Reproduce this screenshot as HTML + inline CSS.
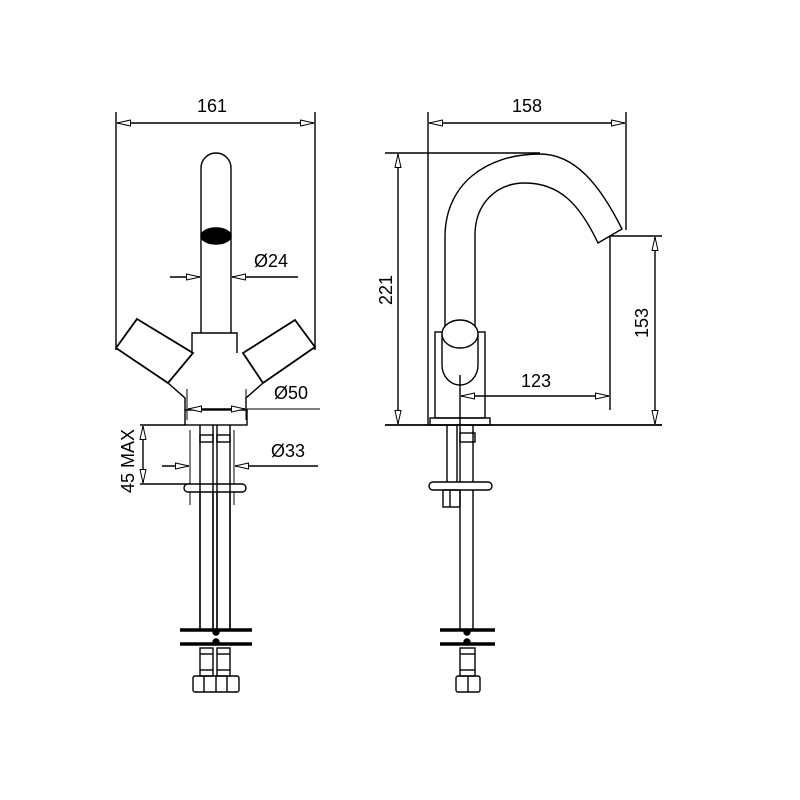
<!DOCTYPE html>
<html><head><meta charset="utf-8"><style>html,body{margin:0;padding:0;background:#fff}svg{display:block}</style></head><body>
<svg width="800" height="800" viewBox="0 0 800 800" xmlns="http://www.w3.org/2000/svg" font-family="Liberation Sans, sans-serif">
<defs>
<marker id="a" viewBox="0 0 14 7" refX="14" refY="3.5" markerWidth="14" markerHeight="7" orient="auto" markerUnits="userSpaceOnUse"><path d="M0.5,0.5 L14,3.5 L0.5,6.5 Z" fill="#fff" stroke="#000" stroke-width="1"/></marker>
</defs>
<g fill="none" stroke="#000" stroke-width="1.4">
<!-- LEFT VIEW -->
<line x1="116" y1="112" x2="116" y2="350"/>
<line x1="315" y1="112" x2="315" y2="350"/>
<line x1="213" y1="123" x2="117" y2="123" marker-end="url(#a)"/>
<line x1="213" y1="123" x2="314" y2="123" marker-end="url(#a)"/>
<path d="M201,333 V168 A15,15 0 0 1 231,168 V333"/>
<ellipse cx="216" cy="236" rx="15" ry="8" fill="#000"/>
<line x1="170" y1="277" x2="200" y2="277" marker-end="url(#a)"/>
<line x1="298" y1="277" x2="232" y2="277" marker-end="url(#a)"/>
<path d="M192,353 V333 H237 V353"/>
<path d="M137,319 L193,353 L168,383 L116,348 Z" stroke-width="1.8"/>
<path d="M295,320 L315,347 L263,383 L243,353 Z" stroke-width="1.8"/>
<path d="M168,383 L185,398 V410"/>
<path d="M263,383 L246,398 V410"/>
<rect x="185" y="410" width="62" height="15"/>
<line x1="187" y1="389" x2="187" y2="420" stroke-width="1"/>
<line x1="246" y1="389" x2="246" y2="420" stroke-width="1"/>
<line x1="216" y1="409" x2="188" y2="409" marker-end="url(#a)"/>
<line x1="216" y1="409" x2="245" y2="409" marker-end="url(#a)"/>
<line x1="246" y1="409" x2="320" y2="409" stroke-width="1"/>
<line x1="140" y1="425" x2="185" y2="425"/>
<line x1="140" y1="484" x2="190" y2="484"/>
<line x1="143" y1="455" x2="143" y2="426" marker-end="url(#a)"/>
<line x1="143" y1="455" x2="143" y2="483" marker-end="url(#a)"/>
<line x1="200" y1="425" x2="200" y2="630"/>
<line x1="213" y1="425" x2="213" y2="630"/>
<line x1="217" y1="425" x2="217" y2="630"/>
<line x1="230" y1="425" x2="230" y2="630"/>
<rect x="200" y="435" width="13" height="7"/>
<rect x="217" y="435" width="13" height="7"/>
<line x1="190" y1="430" x2="190" y2="505" stroke-width="1"/>
<line x1="234" y1="430" x2="234" y2="505" stroke-width="1"/>
<line x1="162" y1="466" x2="189" y2="466" marker-end="url(#a)"/>
<line x1="318" y1="466" x2="235" y2="466" marker-end="url(#a)"/>
<path d="M188,484 H242 A4,4 0 0 1 242,492 H188 A4,4 0 0 1 188,484 Z" fill="#fff"/>
<line x1="200" y1="484" x2="200" y2="630"/>
<line x1="213" y1="484" x2="213" y2="630"/>
<line x1="217" y1="484" x2="217" y2="630"/>
<line x1="230" y1="484" x2="230" y2="630"/>
<line x1="180" y1="630" x2="252" y2="630" stroke-width="3.5"/>
<line x1="180" y1="644" x2="252" y2="644" stroke-width="3.5"/>
<circle cx="216" cy="632" r="3" fill="#000"/><circle cx="216" cy="642" r="3" fill="#000"/>
<rect x="200" y="648" width="13" height="28"/><rect x="217" y="648" width="13" height="28"/>
<line x1="200" y1="654" x2="213" y2="654"/><line x1="217" y1="654" x2="230" y2="654"/>
<line x1="200" y1="670" x2="213" y2="670"/><line x1="217" y1="670" x2="230" y2="670"/>
<rect x="193" y="676" width="46" height="16" rx="2"/>
<line x1="204" y1="676" x2="204" y2="692"/><line x1="216" y1="676" x2="216" y2="692"/><line x1="227" y1="676" x2="227" y2="692"/>

<!-- RIGHT VIEW -->
<line x1="428" y1="112" x2="428" y2="425"/>
<line x1="626" y1="112" x2="626" y2="230"/>
<line x1="527" y1="123" x2="429" y2="123" marker-end="url(#a)"/>
<line x1="527" y1="123" x2="625" y2="123" marker-end="url(#a)"/>
<line x1="385" y1="153" x2="540" y2="153"/>
<line x1="398" y1="290" x2="398" y2="154" marker-end="url(#a)"/>
<line x1="398" y1="290" x2="398" y2="424" marker-end="url(#a)"/>
<line x1="385" y1="425" x2="662" y2="425" stroke-width="1.8"/>
<line x1="610" y1="236" x2="662" y2="236"/>
<line x1="655" y1="330" x2="655" y2="237" marker-end="url(#a)"/>
<line x1="655" y1="330" x2="655" y2="424" marker-end="url(#a)"/>
<line x1="610" y1="236" x2="610" y2="410"/>
<line x1="535" y1="396" x2="461" y2="396" marker-end="url(#a)"/>
<line x1="535" y1="396" x2="609" y2="396" marker-end="url(#a)"/>
<path d="M445,332 V237 C445,185 485,154 540,154 C575,154 600,185 622,229 L598,243 C580,205 560,183 525,183 C495,183 475,205 475,235 V330"/>
<rect x="435" y="332" width="50" height="86"/>
<path d="M442,334 V365 A18,20 0 0 0 478,365 V334"/>
<ellipse cx="460" cy="334" rx="18" ry="14" fill="#fff"/>
<rect x="430" y="418" width="60" height="7"/>
<line x1="460" y1="375" x2="460" y2="630"/>
<line x1="447" y1="425" x2="447" y2="484"/>
<line x1="457" y1="425" x2="457" y2="484"/>
<line x1="473" y1="425" x2="473" y2="630"/>
<rect x="460" y="433" width="15" height="9"/>
<path d="M433,482 H488 A4,4 0 0 1 488,490 H433 A4,4 0 0 1 433,482 Z" fill="#fff"/>
<rect x="443" y="490" width="17" height="17"/>
<line x1="450" y1="490" x2="450" y2="507"/>
<line x1="440" y1="630" x2="495" y2="630" stroke-width="3.5"/>
<line x1="440" y1="644" x2="495" y2="644" stroke-width="3.5"/>
<circle cx="467" cy="632" r="3" fill="#000"/><circle cx="467" cy="642" r="3" fill="#000"/>
<rect x="460" y="648" width="15" height="28"/>
<line x1="460" y1="654" x2="475" y2="654"/><line x1="460" y1="670" x2="475" y2="670"/>
<rect x="456" y="676" width="24" height="16" rx="2"/>
<line x1="468" y1="676" x2="468" y2="692"/>
</g>
<g font-size="18" fill="#000">
<text x="212" y="112" text-anchor="middle">161</text>
<text x="254" y="267">Ø24</text>
<text x="274" y="399">Ø50</text>
<text x="271" y="457">Ø33</text>
<text transform="translate(134,493) rotate(-90)">45 MAX</text>
<text x="527" y="112" text-anchor="middle">158</text>
<text transform="translate(392,290) rotate(-90)" text-anchor="middle">221</text>
<text transform="translate(648,323) rotate(-90)" text-anchor="middle">153</text>
<text x="536" y="387" text-anchor="middle">123</text>
</g>
</svg>
</body></html>
